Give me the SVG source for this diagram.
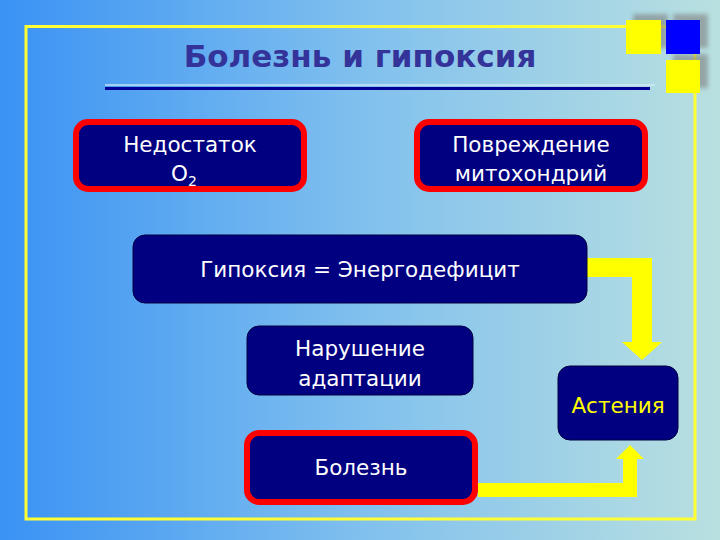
<svg xmlns="http://www.w3.org/2000/svg" width="720" height="540" viewBox="0 0 720 540">
<defs>
<linearGradient id="bg" x1="0" y1="0" x2="1" y2="0">
<stop offset="0" stop-color="#3a92f4"/>
<stop offset="0.5" stop-color="#80c0ee"/>
<stop offset="1" stop-color="#b9e0e0"/>
</linearGradient>
<filter id="sh" x="-30%" y="-30%" width="160%" height="160%">
<feGaussianBlur stdDeviation="2"/>
</filter>
</defs>
<style>
.node{fill:#000080;stroke:#000040;stroke-width:1}
.red{fill:#000080;stroke:#ff0000;stroke-width:6}
.t{font-family:"DejaVu Sans","Liberation Sans",sans-serif;font-size:21.5px;fill:#ffffff;text-anchor:middle}
.y{fill:#ffff00}
.arrow{fill:#ffff00}
</style>
<rect width="720" height="540" fill="url(#bg)"/>
<g id="frame">
<rect x="26" y="26.5" width="669" height="492.5" fill="none" stroke="#ffff33" stroke-width="3"/>
<g id="squares">
<rect x="633" y="14" width="35" height="34" fill="#808080" opacity="0.6" filter="url(#sh)"/>
<rect x="673" y="14" width="35" height="34" fill="#808080" opacity="0.6" filter="url(#sh)"/>
<rect x="673" y="54" width="35" height="34" fill="#808080" opacity="0.6" filter="url(#sh)"/>
<rect x="626" y="20" width="35" height="34" fill="#ffff00"/>
<rect x="666" y="20" width="34" height="34" fill="#0000ff"/>
<rect x="666" y="60" width="34" height="33" fill="#ffff00"/>
</g>
</g>
<g id="title">
<text x="360" y="67" font-family="DejaVu Sans, Liberation Sans, sans-serif" font-size="31" font-weight="bold" fill="#333399" text-anchor="middle">Болезнь и гипоксия</text>
<line x1="105" y1="85" x2="655" y2="85" stroke="#d8eef8" stroke-width="2" opacity="0.6"/>
<line x1="105" y1="88.5" x2="650" y2="88.5" stroke="#000099" stroke-width="3"/>
</g>
<g id="connectors">
<polygon class="arrow" points="587,258 652,258 652,342 662,342 642,360 622,342 632,342 632,277 587,277"/>
<polygon class="arrow" points="478,483 623,483 623,459 616,459 630,445 644,459 637,459 637,497 478,497"/>
</g>
<g id="node-nedostatok">
<rect class="red" x="76" y="122" width="228" height="67" rx="12"/>
<text class="t" x="190" y="152">Недостаток</text>
<text class="t" x="184" y="181">O<tspan font-size="14" dy="5">2</tspan></text>
</g>
<g id="node-povrezhdenie">
<rect class="red" x="417" y="122" width="228" height="67" rx="12"/>
<text class="t" x="531" y="152">Повреждение</text>
<text class="t" x="531" y="181">митохондрий</text>
</g>
<g id="node-gipoksiya">
<rect class="node" x="133" y="235" width="454" height="68" rx="12"/>
<text class="t" x="360" y="277">Гипоксия = Энергодефицит</text>
</g>
<g id="node-narushenie">
<rect class="node" x="247" y="326" width="226" height="69" rx="12"/>
<text class="t" x="360" y="356">Нарушение</text>
<text class="t" x="360" y="386">адаптации</text>
</g>
<g id="node-asteniya">
<rect class="node" x="558" y="366" width="120" height="74" rx="12"/>
<text class="t y" x="618" y="413">Астения</text>
</g>
<g id="node-bolezn">
<rect class="red" x="247" y="433" width="228" height="69" rx="12"/>
<text class="t" x="361" y="475">Болезнь</text>
</g>
</svg>
